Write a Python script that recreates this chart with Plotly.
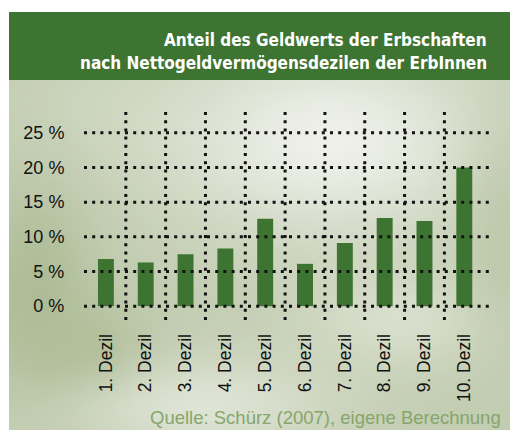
import base64, struct, zlib
import numpy as np
import plotly.graph_objects as go

# ---------------- data ----------------
categories = ["1. Dezil", "2. Dezil", "3. Dezil", "4. Dezil", "5. Dezil",
              "6. Dezil", "7. Dezil", "8. Dezil", "9. Dezil", "10. Dezil"]
shares = [6.8, 6.3, 7.5, 8.3, 12.6, 6.1, 9.1, 12.7, 12.3, 20.0]
y_tick_values = [0, 5, 10, 15, 20, 25]
y_tick_labels = ["0 %", "5 %", "10 %", "15 %", "20 %", "25 %"]
title_lines = ["Anteil des Geldwerts der Erbschaften",
               "nach Nettogeldvermögensdezilen der ErbInnen"]
source_text = "Quelle: Schürz (2007), eigene Berechnung"

# ---------------- geometry (page px; page body has an 8px margin) ----------------
OFF = 8
PAGE_W, PAGE_H = 518, 430
W, H = PAGE_W - OFF, PAGE_H - OFF
L, R, T, B = 84, 491, 110, 320   # plot area in page px


def px_x(px):
    return (px - L) / (R - L)


def px_y(py):
    return (B - py) / (B - T)


# ---------------- background image ----------------
def png_uri(arr):
    h, w, _ = arr.shape
    raw = b"".join(b"\x00" + arr[r].tobytes() for r in range(h))

    def chunk(t, d):
        c = struct.pack(">I", len(d)) + t + d
        return c + struct.pack(">I", zlib.crc32(t + d) & 0xFFFFFFFF)

    png = (b"\x89PNG\r\n\x1a\n"
           + chunk(b"IHDR", struct.pack(">IIBBBBB", w, h, 8, 2, 0, 0, 0))
           + chunk(b"IDAT", zlib.compress(raw, 9))
           + chunk(b"IEND", b""))
    return "data:image/png;base64," + base64.b64encode(png).decode()


def hexrgb(h):
    h = h.lstrip("#")
    return np.array([int(h[i:i + 2], 16) for i in (0, 2, 4)], dtype=float)


PX0, PX1, PY0, PY1 = 9, 510, 80, 438
GW, GH = 100, 72
xs = PX0 + (np.arange(GW) + 0.5) * (PX1 - PX0) / GW
ys = PY0 + (np.arange(GH) + 0.5) * (PY1 - PY0) / GH
XX, YY = np.meshgrid(xs, ys)
img = np.ones((GH, GW, 3)) * hexrgb("#c3cdb2")
blobs = [
    (120, 110, 90, 50, "#ccd5bd", 0.8),
    (330, 140, 115, 70, "#eff1ea", 1.0),
    (400, 320, 70, 35, "#e2e7d8", 0.7),
    (200, 405, 95, 35, "#e4e9dc", 0.85),
    (35, 290, 40, 70, "#a9b990", 0.8),
    (85, 345, 45, 30, "#adbc95", 0.7),
    (505, 230, 30, 80, "#b9c5a4", 0.6),
]
for cx, cy, sx, sy, col, s in blobs:
    w = s * np.exp(-(((XX - cx) ** 2) / (2 * sx ** 2) + ((YY - cy) ** 2) / (2 * sy ** 2)))
    img = img * (1 - w[..., None]) + hexrgb(col) * w[..., None]
bg_uri = png_uri(np.clip(img, 0, 255).astype(np.uint8))

# ---------------- figure ----------------
GREEN = "#3e7431"
fig = go.Figure()
fig.add_trace(go.Bar(x=categories, y=shares, width=0.4,
                     marker=dict(color=GREEN, line=dict(width=0)),
                     hoverinfo="x+y"))

shapes = []
shapes.append(dict(type="rect", xref="paper", yref="paper", layer="below",
                   x0=px_x(PX0), x1=px_x(PX1), y0=px_y(80), y1=px_y(12),
                   fillcolor=GREEN, line=dict(width=0)))
dot = dict(color="#111111", width=3, dash="3px,5.2px")
x_lo, x_hi = -0.55, 9.67
y_lo, y_hi = -2.0, 28.3
for v in y_tick_values:
    shapes.append(dict(type="line", xref="x", yref="y", x0=x_lo, x1=x_hi,
                       y0=v, y1=v, line=dot, layer="above"))
for i in range(len(categories) - 1):
    shapes.append(dict(type="line", xref="x", yref="y", x0=i + 0.5, x1=i + 0.5,
                       y0=y_lo, y1=y_hi, line=dot, layer="above"))

annotations = []
title_font = dict(family="Liberation Sans Narrow, DejaVu Sans Condensed, Arial Narrow, sans-serif",
                  size=17, color="white", weight="bold")
for line, cy in zip(title_lines, [40, 63]):
    annotations.append(dict(text=line, xref="paper", yref="paper",
                            x=px_x(489), y=px_y(cy), xanchor="right", yanchor="middle",
                            showarrow=False, font=title_font))
annotations.append(dict(text=source_text, xref="paper", yref="paper",
                        x=px_x(503), y=px_y(417), xanchor="right", yanchor="middle",
                        showarrow=False,
                        font=dict(family="Liberation Sans, Arial, sans-serif", size=18.5,
                                  color="#86a66c")))

fig.update_layout(
    width=W, height=H,
    margin=dict(l=L - OFF, r=PAGE_W - R, t=T - OFF, b=PAGE_H - B, autoexpand=False),
    paper_bgcolor="white", plot_bgcolor="rgba(0,0,0,0)",
    showlegend=False,
    shapes=shapes, annotations=annotations,
    images=[dict(source=bg_uri, xref="paper", yref="paper",
                 x=px_x(PX0), y=px_y(PY0), sizex=px_x(PX1) - px_x(PX0),
                 sizey=px_y(PY0) - px_y(PY1), xanchor="left", yanchor="top",
                 sizing="stretch", layer="below")],
    xaxis=dict(range=[x_lo, x_hi], showgrid=False, zeroline=False, showline=False,
               tickangle=-90, ticks="outside", ticklen=6, tickcolor="rgba(0,0,0,0)",
               tickfont=dict(family="Liberation Sans, Arial, sans-serif", size=17.5,
                             color="#111111"), fixedrange=True),
    yaxis=dict(range=[y_lo, y_hi], showgrid=False, zeroline=False, showline=False,
               tickvals=y_tick_values, ticktext=y_tick_labels,
               ticks="outside", ticklen=15, tickcolor="rgba(0,0,0,0)",
               tickfont=dict(family="Liberation Sans, Arial, sans-serif", size=18,
                             color="#111111"), fixedrange=True),
)

fig.write_html("out.html")
